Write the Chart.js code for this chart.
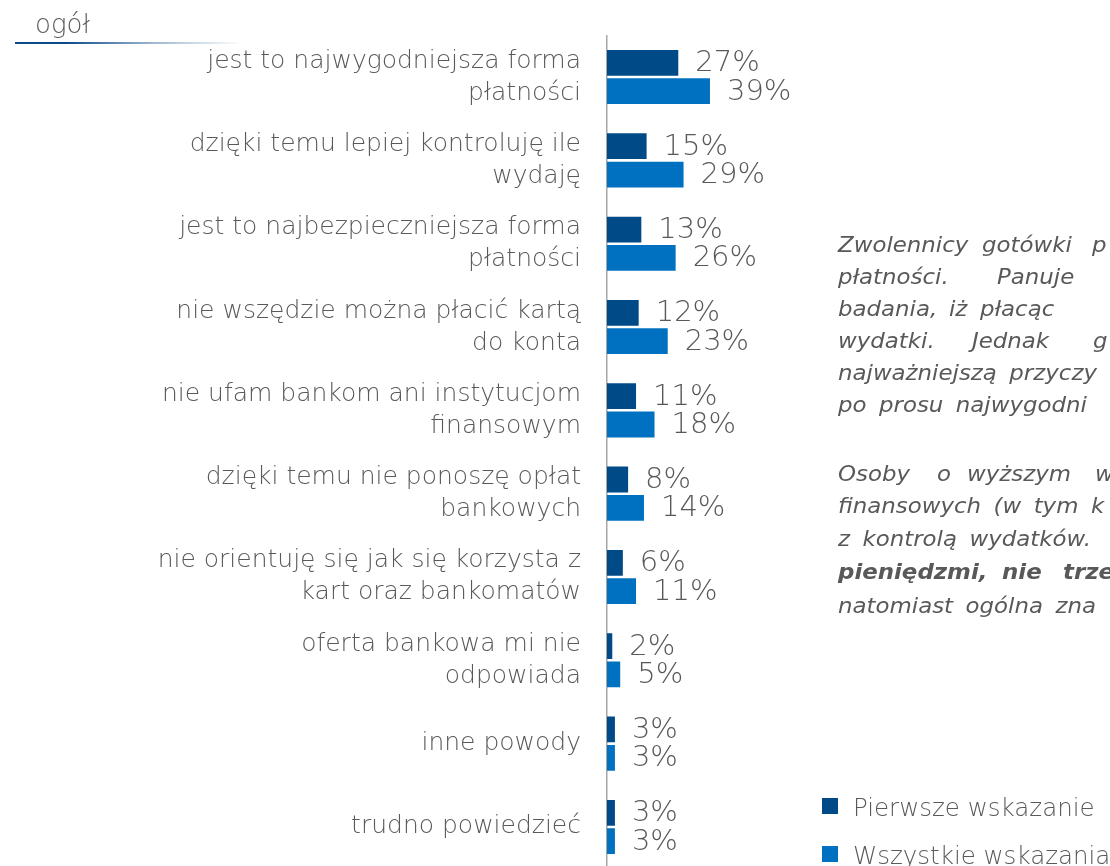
<!DOCTYPE html>
<html>
<head>
<meta charset="utf-8">
<script src="https://cdn.jsdelivr.net/npm/chart.js@4.4.1/dist/chart.umd.min.js"></script>
<style>
  html, body { margin:0; padding:0; background:#fff; width:1110px; height:866px; overflow:hidden; }
  body { position:relative; font-family:"DejaVu Sans", sans-serif; color:#595959; }
  #wrap { position:absolute; left:0; top:0; width:1110px; height:880px; }
  .t { position:absolute; white-space:nowrap; }
  .p { font-style:italic; font-size:22px; line-height:32px; font-weight:normal;
       transform-origin:0 50%; transform:scaleX(1.04); word-spacing:5px; }
  .b { font-weight:bold; }
  #title { left:35px; top:11px; font-size:26px; line-height:26px; font-weight:200; }
  #uline { position:absolute; left:15px; top:42px; width:228px; height:2px;
           background:linear-gradient(to right, #0b4a87 0%, #0b4a87 22%, rgba(11,74,135,0.4) 60%, rgba(255,255,255,0) 100%); }
  .lg { position:absolute; font-size:24.5px; line-height:24px; font-weight:200; white-space:nowrap; }
  .sq { position:absolute; width:16px; height:16px; }
</style>
</head>
<body>
<div id="wrap"><canvas id="c" width="1110" height="880"></canvas></div>
<div class="t" id="title">ogół</div>
<div id="uline"></div>
<div id="para"></div>
<div id="legend"></div>
<script>
const categories = [
  ["jest to najwygodniejsza forma", "płatności"],
  ["dzięki temu lepiej kontroluję ile", "wydaję"],
  ["jest to najbezpieczniejsza forma", "płatności"],
  ["nie wszędzie można płacić kartą", "do konta"],
  ["nie ufam bankom ani instytucjom", "finansowym"],
  ["dzięki temu nie ponoszę opłat", "bankowych"],
  ["nie orientuję się jak się korzysta z", "kart oraz bankomatów"],
  ["oferta bankowa mi nie", "odpowiada"],
  "inne powody",
  "trudno powiedzieć"
];
const seriesNames = ["Pierwsze wskazanie", "Wszystkie wskazania"];
const firstChoice = [27, 15, 13, 12, 11, 8, 6, 2, 3, 3];
const allChoices  = [39, 29, 26, 23, 18, 14, 11, 5, 3, 3];
const seriesColors = ["#004a87", "#0070c0"];

const textColor = "#595959";
const fontFam = "'DejaVu Sans', sans-serif";

const valueLabels = {
  id: "valueLabels",
  afterDatasetsDraw(chart) {
    const ctx = chart.ctx;
    ctx.save();
    ctx.font = "200 29px " + fontFam;
    ctx.fillStyle = textColor;
    ctx.textAlign = "left";
    ctx.textBaseline = "middle";
    chart.data.datasets.forEach((ds, di) => {
      const meta = chart.getDatasetMeta(di);
      meta.data.forEach((bar, i) => {
        ctx.fillText(ds.data[i] + "%", bar.x + 17, bar.y + 1);
      });
    });
    ctx.restore();
  }
};

new Chart(document.getElementById("c"), {
  type: "bar",
  data: {
    labels: categories,
    datasets: [
      { label: seriesNames[0], data: firstChoice, backgroundColor: seriesColors[0],
        categoryPercentage: 0.68, barPercentage: 0.91 },
      { label: seriesNames[1], data: allChoices, backgroundColor: seriesColors[1],
        categoryPercentage: 0.68, barPercentage: 0.91 }
    ]
  },
  options: {
    indexAxis: "y",
    responsive: false,
    animation: false,
    devicePixelRatio: 1,
    layout: { padding: { left: 0, top: 35.4, bottom: 11.4, right: 239 } },
    plugins: { legend: { display: false }, tooltip: { enabled: false } },
    scales: {
      x: { display: false, min: 0, max: 100 },
      y: {
        afterFit(scale) {
          scale.width = 607;
          scale.paddingTop = 0; scale.paddingBottom = 0;
          scale.paddingLeft = 0; scale.paddingRight = 0;
        },
        grid: { display: false, drawTicks: false },
        border: { display: true, color: "#a6a6a6", width: 1.5 },
        ticks: {
          padding: 26,
          color: textColor,
          font: { family: fontFam, size: 25, weight: 200, lineHeight: "32px" }
        }
      }
    }
  },
  plugins: [valueLabels]
});

// Side commentary (justified text, clipped at the page edge like in the source)
// each word: [text, left]
const paraLines = [
  { b: 253, words: [["Zwolennicy", 838], ["gotówki", 982], ["p", 1092]] },
  { b: 285, words: [["płatności.", 838], ["Panuje", 997]] },
  { b: 317, words: [["badania,", 838], ["iż", 949], ["płacąc", 980]] },
  { b: 349, words: [["wydatki.", 838], ["Jednak", 972], ["g", 1093]] },
  { b: 381, words: [["najważniejszą przyczy", 838]] },
  { b: 413, words: [["po prosu najwygodni", 838]] },
  { b: 482, words: [["Osoby", 838], ["o", 937], ["wyższym", 967], ["w", 1095]] },
  { b: 514, words: [["finansowych (w tym k", 838]] },
  { b: 547, words: [["z kontrolą wydatków.", 838]] },
  { b: 580, bold: true, words: [["pieniędzmi,", 838], ["nie", 1002], ["trzeb", 1063]] },
  { b: 614, words: [["natomiast ogólna zna", 838]] }
];
const para = document.getElementById("para");
paraLines.forEach(l => {
  l.words.forEach(([w, x0]) => {
    const s = document.createElement("div");
    s.className = "t p" + (l.bold ? " b" : "");
    s.style.left = x0 + "px";
    s.style.top = (l.b - 23.6) + "px";
    s.textContent = w;
    para.appendChild(s);
  });
});

// Legend
const lg = document.getElementById("legend");
seriesNames.forEach((n, i) => {
  const y = 798 + i * 48;
  const sq = document.createElement("div");
  sq.className = "sq";
  sq.style.left = "822px"; sq.style.top = y + "px";
  sq.style.background = seriesColors[i];
  lg.appendChild(sq);
  const tx = document.createElement("div");
  tx.className = "lg";
  tx.style.left = "853px"; tx.style.top = (y - 2) + "px";
  tx.textContent = n;
  lg.appendChild(tx);
});
</script>
</body>
</html>
